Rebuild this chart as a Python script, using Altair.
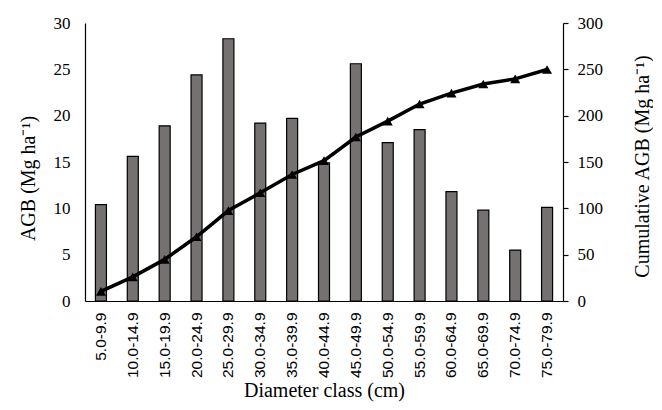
import altair as alt
import pandas as pd

classes = ["5.0-9.9", "10.0-14.9", "15.0-19.9", "20.0-24.9", "25.0-29.9",
           "30.0-34.9", "35.0-39.9", "40.0-44.9", "45.0-49.9", "50.0-54.9",
           "55.0-59.9", "60.0-64.9", "65.0-69.9", "70.0-74.9", "75.0-79.9"]
agb = [10.4, 15.6, 18.9, 24.4, 28.3, 19.2, 19.7, 14.9, 25.6, 17.1, 18.5, 11.8, 9.8, 5.5, 10.1]
cum_agb = [10.4, 26.0, 44.9, 69.3, 97.6, 116.8, 136.5, 151.4, 177.0, 194.1, 212.6, 224.4, 234.2, 239.7, 249.8]

df = pd.DataFrame({"cls": classes, "agb": agb, "cum": cum_agb})

SERIF = "Liberation Serif"
SANS = "Liberation Sans"

x_enc = alt.X("cls:N", sort=classes,
              scale=alt.Scale(paddingInner=0, paddingOuter=0),
              axis=alt.Axis(title="Diameter class (cm)", labelAngle=-90,
                            labelAlign="right", labelBaseline="middle",
                            labelFont=SANS, labelFontSize=15.5, labelColor="black",
                            ticks=False, tickSize=0, labelPadding=11,
                            titleFont=SERIF, titleFontSize=20, titleFontWeight="normal",
                            titleColor="black", titlePadding=3,
                            domainColor="black", domainWidth=1.2))

bars = alt.Chart(df).mark_bar(size=11, fill="#767171", stroke="black", strokeWidth=1.2).encode(
    x=x_enc,
    y=alt.Y("agb:Q", scale=alt.Scale(domain=[0, 30]),
            axis=alt.Axis(title="AGB (Mg ha⁻¹)", values=[0, 5, 10, 15, 20, 25, 30],
                          ticks=False, tickSize=0, labelPadding=15,
                          labelFont=SERIF, labelFontSize=17, labelColor="black",
                          titleFont=SERIF, titleFontSize=20, titleFontWeight="normal",
                          titleColor="black", titleAngle=270, titleBaseline="middle",
                          titleAlign="center", titleX=-57, titleY=155,
                          domainColor="black", domainWidth=1.2, grid=False))
)

line = alt.Chart(df).mark_line(color="black", strokeWidth=3.5,
                               point=alt.OverlayMarkDef(shape="triangle-up", size=100,
                                                        filled=True, color="black")).encode(
    x=alt.X("cls:N", sort=classes),
    y=alt.Y("cum:Q", scale=alt.Scale(domain=[0, 300]),
            axis=alt.Axis(title="Cumulative AGB (Mg ha⁻¹)", orient="right",
                          values=[0, 50, 100, 150, 200, 250, 300],
                          tickSize=5, tickColor="black", tickWidth=1.2, labelPadding=9,
                          labelFont=SERIF, labelFontSize=17, labelColor="black",
                          titleFont=SERIF, titleFontSize=20, titleFontWeight="normal",
                          titleColor="black", titleAngle=270, titleBaseline="middle",
                          titleAlign="center", titleX=79, titleY=143,
                          domainColor="black", domainWidth=1.2, grid=False))
)

chart = alt.layer(bars, line).resolve_scale(y="independent").properties(
    width=478, height=278,
    autosize=alt.AutoSizeParams(type="none"),
    padding={"left": 77, "top": 15, "right": 90, "bottom": 101},
).configure_view(stroke=None).configure_axis(grid=False)

chart.save("out.html", embed_options={"renderer": "svg", "actions": False})
